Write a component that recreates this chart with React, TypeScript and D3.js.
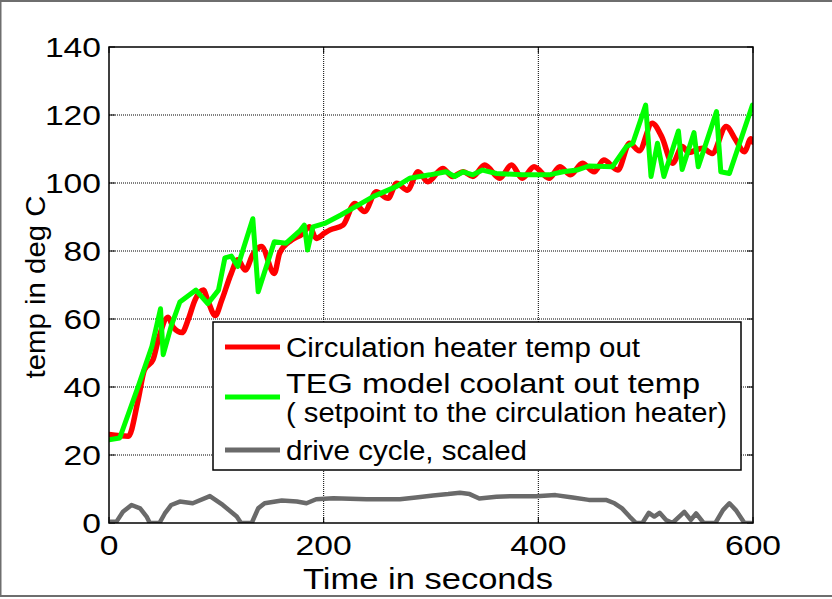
import React from "react";
import * as d3 from "d3";

const heaterT = [0,18,27,33,41,46,55,60,68,74,80,88,92,99,105,114,120,127,134,142,154,159,170,180,187,193,201,206,218,229,238,249,260,268,278,288,297,311,320,330,339,350,364,375,385,396,410,420,430,441,452,461,474,485,494,506,515,525,534,540,553,562,575,584,592,598,600];
const heaterV = [26,25.5,36,45,48,54,60.5,57.5,56,60,65.5,68.5,65.5,61,65.5,73.5,77.4,74.4,79,81.3,73.4,79.4,83.2,85,87.1,83.7,85.3,86.2,87.6,94,91.6,97.4,95.5,99.9,97.9,103.3,100.4,104.3,101.9,103.3,101.9,105.3,101.4,105.3,101.4,104.8,101.4,104.8,102.4,105.8,103.3,106.8,103.8,111.7,109.5,117.6,113.6,105.8,110.7,109,110.2,108.7,116.6,112.6,109.2,113,112];

const tegT = [0,10,27,40,48,50.5,58,66,81,92,102,108,114,120,134,139,154,165,178,182,185,190,201,216,235,246,268,280,299,314,322,330,339,348,361,385,410,423,436,447,469,482,488,500,505,511,517,530.5,534,545,549,566,570,578,599.5];
const tegV = [24.5,25,40,52,63,49.5,58,65,68.5,64.5,68.5,78,78.5,75.5,89.5,68,82.7,82.3,86,87.6,80.3,87.1,88.1,90.6,94,96,99,101.4,102.4,103.3,101.9,103.3,102.4,103.8,102.8,102.4,102.4,103.3,103.8,105,104.8,110.7,111.7,122.9,101.9,111.7,101.9,115.3,104,114.8,104.8,121,103.3,102.8,122.9];

const driveT = [0,7,13,21,29,35,38,47,52,58,66,78,94,106,119,123,133,139,145,161,175,184,193,209,240,271,286,302,316,327,336,345,361,376,398,416,432,447,463,471,478,485,491,497,503,508,513,519,525,536,542,547,554,565,572,578,584,592,598];
const driveV = [0.4,0.4,3.3,5.3,4.3,1.9,0,0,2.8,5.3,6.3,5.8,7.9,5.3,1.9,0,0,4.3,5.8,6.6,6.3,5.8,7,7.3,7,7,7.5,8.1,8.5,8.9,8.5,7.2,7.7,7.9,7.9,8.2,7.5,6.8,6.8,5.8,4.3,1.9,0,0,3,1.9,3,0.9,0,3.3,0.9,2.8,0,0,3.8,5.8,3.8,0,0];

const xTicks = [0,200,400,600];
const yTicks = [0,20,40,60,80,100,120,140];
const legendLabels = ["Circulation heater temp out","TEG model coolant out temp","( setpoint to the circulation heater)","drive cycle, scaled"];

const W = 832, H = 599;
const L = 109, R = 753, T = 47, B = 523;
const FONT = "'Liberation Sans', Arial, sans-serif";
const DIGIT_W = 18.7;

export default function App() {
  const x = d3.scaleLinear().domain([0, 600]).range([L, R]);
  const y = d3.scaleLinear().domain([0, 140]).range([B, T]);
  const mk = (ts: number[], vs: number[], curve: d3.CurveFactory) =>
    d3.line<number>().curve(curve).x((_, i) => x(ts[i])).y((_, i) => y(vs[i]))(vs.map((v) => v)) || "";
  const heaterPath = mk(heaterT, heaterV, d3.curveMonotoneX);
  const tegPath = mk(tegT, tegV, d3.curveLinear);
  const drivePath = mk(driveT, driveV, d3.curveLinear);

  const lx = 213, ly = 322, lw = 528, lh = 148;
  const legendW = [354, 414, 441, 241];
  const legendY = [357, 393, 422, 460];
  return (
    <svg width={W} height={H} style={{ position: "absolute", left: 0, top: 0, background: "#fff" }}>
      <rect x={0.5} y={1} width={W + 2} height={595} fill="#fff" stroke="#6e6e6e" strokeWidth={2} />
      <defs>
        <clipPath id="plot">
          <rect x={L} y={T} width={R - L} height={B - T} />
        </clipPath>
      </defs>
      {xTicks.map((t) => (
        <g key={"x" + t}>
          {t > 0 && t < 600 && (
            <line x1={x(t)} x2={x(t)} y1={T} y2={B} stroke="#000" strokeWidth={1} strokeDasharray="1,1" />
          )}
          <line x1={x(t)} x2={x(t)} y1={B} y2={B - 6} stroke="#000" />
          <line x1={x(t)} x2={x(t)} y1={T} y2={T + 6} stroke="#000" />
          <text x={x(t)} y={B + 32} textAnchor="middle" fontFamily={FONT} fontSize={28} fill="#000"
            textLength={String(t).length * DIGIT_W} lengthAdjust="spacingAndGlyphs">{t}</text>
        </g>
      ))}
      {yTicks.map((v) => (
        <g key={"y" + v}>
          {v > 0 && v < 140 && (
            <line x1={L} x2={R} y1={y(v)} y2={y(v)} stroke="#000" strokeWidth={1} strokeDasharray="1,1" />
          )}
          <line x1={L} x2={L + 6} y1={y(v)} y2={y(v)} stroke="#000" />
          <line x1={R} x2={R - 6} y1={y(v)} y2={y(v)} stroke="#000" />
          <text x={L - 8} y={y(v) + 10} textAnchor="end" fontFamily={FONT} fontSize={28} fill="#000"
            textLength={String(v).length * DIGIT_W} lengthAdjust="spacingAndGlyphs">{v}</text>
        </g>
      ))}
      <g clipPath="url(#plot)" fill="none" strokeLinejoin="round" strokeLinecap="round">
        <path d={heaterPath} stroke="#ff0000" strokeWidth={5.5} />
        <path d={tegPath} stroke="#00ff00" strokeWidth={5} />
        <path d={drivePath} stroke="#6a6a6a" strokeWidth={4.5} />
      </g>
      <rect x={L} y={T} width={R - L} height={B - T} fill="none" stroke="#000" strokeWidth={1.5} />
      <g>
        <rect x={lx} y={ly} width={lw} height={lh} fill="#fff" stroke="#000" strokeWidth={1.5} />
        <line x1={225} x2={280} y1={347} y2={347} stroke="#ff0000" strokeWidth={5} />
        <line x1={225} x2={280} y1={397} y2={397} stroke="#00ff00" strokeWidth={5} />
        <line x1={225} x2={280} y1={450} y2={450} stroke="#6a6a6a" strokeWidth={5} />
        {legendLabels.map((s, i) => (
          <text key={s} x={286} y={legendY[i]} fontFamily={FONT} fontSize={27} fill="#000"
            textLength={legendW[i]} lengthAdjust="spacingAndGlyphs">{s}</text>
        ))}
      </g>
      <text x={428} y={589} textAnchor="middle" fontFamily={FONT} fontSize={29} fill="#000"
        textLength={250} lengthAdjust="spacingAndGlyphs">Time in seconds</text>
      <text transform={`translate(45,${287}) rotate(-90)`} textAnchor="middle" fontFamily={FONT} fontSize={28} fill="#000"
        textLength={183} lengthAdjust="spacingAndGlyphs">temp in deg C</text>
    </svg>
  );
}
